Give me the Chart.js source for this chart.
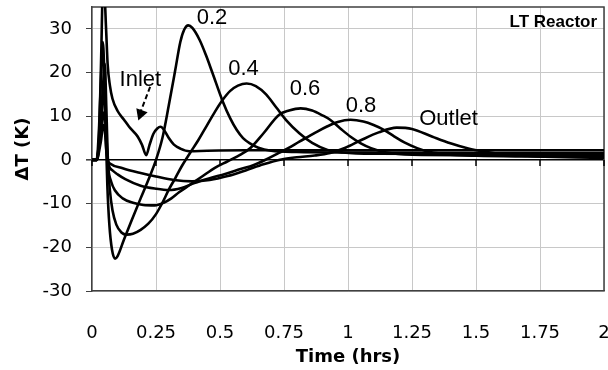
<!DOCTYPE html>
<html><head><meta charset="utf-8">
<script src="https://cdn.jsdelivr.net/npm/chart.js@4.4.1/dist/chart.umd.min.js"></script>
<style>html,body{margin:0;padding:0;background:#fff}canvas{display:block}</style>
</head><body>
<canvas id="c" width="608" height="370"></canvas>
<script>
// tick labels
const xTicks=[0,0.25,0.5,0.75,1,1.25,1.5,1.75,2];
const yTicks=[-30,-20,-10,0,10,20,30];
const seriesNames=["Inlet","0.2","0.4","0.6","0.8","Outlet"];
// [time (hrs), dT (K)]
const inlet=[[0,0],[0.02,0],[0.028,6],[0.036,24],[0.042,38],[0.048,38],[0.055,30],[0.061,22],[0.07,17],[0.08,14],[0.1,11.2],[0.125,9.2],[0.145,7.6],[0.165,6.3],[0.18,5.2],[0.195,3.5],[0.212,1.1],[0.225,3.5],[0.24,6],[0.255,7.2],[0.268,7.6],[0.282,6.8],[0.3,5],[0.32,3.5],[0.345,2.6],[0.38,2],[0.45,2.1],[0.6,2.2],[1,2.2],[1.5,2.2],[2,2.2]];
const p02=[[0,0],[0.018,0],[0.028,8],[0.036,20],[0.042,27],[0.047,22],[0.053,8],[0.06,-6],[0.068,-15],[0.078,-20.5],[0.09,-22.6],[0.1,-22],[0.125,-18.2],[0.155,-13.8],[0.19,-8.8],[0.22,-4.6],[0.25,0],[0.275,5],[0.3,12.5],[0.325,20.5],[0.345,27],[0.36,29.8],[0.376,30.8],[0.392,30.2],[0.42,27.5],[0.445,24],[0.47,20],[0.51,13.5],[0.54,9.5],[0.565,6.9],[0.59,5],[0.617,3.8],[0.65,2.8],[0.7,2.1],[0.8,1.8],[1,1.7],[1.5,1.6],[2,1.6]];
const p04=[[0,0],[0.018,0],[0.03,6],[0.042,16],[0.05,22],[0.056,12],[0.062,0],[0.07,-7],[0.08,-11.5],[0.095,-14.8],[0.115,-16.6],[0.135,-17.1],[0.16,-16.9],[0.19,-16],[0.22,-14.6],[0.25,-12.4],[0.275,-9.8],[0.3,-6.8],[0.325,-4.2],[0.35,-1.5],[0.383,1.6],[0.415,4.5],[0.448,7.8],[0.48,11],[0.51,13.7],[0.54,15.8],[0.57,17],[0.604,17.5],[0.64,16.9],[0.68,15],[0.72,12],[0.76,9],[0.81,6.1],[0.86,3.9],[0.92,2.3],[0.98,1.7],[1.1,1.4],[2,1.3]];
const p06=[[0,0],[0.018,0],[0.032,6],[0.044,14],[0.05,16],[0.056,6],[0.063,-1.5],[0.075,-5],[0.09,-7],[0.12,-8.8],[0.16,-9.8],[0.2,-10.3],[0.245,-10.4],[0.28,-9.8],[0.31,-8.8],[0.34,-7.4],[0.38,-5.8],[0.43,-3.8],[0.48,-1.8],[0.53,-0.3],[0.58,1.2],[0.62,2.8],[0.67,6.1],[0.73,10.3],[0.77,11.3],[0.815,11.8],[0.86,11.3],[0.9,10.2],[0.93,9.2],[0.97,7.2],[1.01,5.3],[1.05,3.8],[1.09,2.7],[1.15,1.7],[1.25,1.2],[1.5,1.1],[2,1.0]];
const p08=[[0,0],[0.018,0],[0.032,5],[0.044,10],[0.05,11],[0.056,4],[0.065,-1],[0.08,-2.4],[0.1,-3.3],[0.13,-4.4],[0.19,-5.9],[0.25,-6.6],[0.3,-6.9],[0.35,-6.4],[0.4,-5.3],[0.46,-4.2],[0.52,-3.2],[0.58,-2.1],[0.63,-1.2],[0.68,0.1],[0.73,1.6],[0.77,2.8],[0.81,4.2],[0.85,5.5],[0.88,6.5],[0.92,7.7],[0.96,8.7],[1.01,9.2],[1.06,8.8],[1.1,8],[1.14,6.9],[1.18,5.4],[1.22,4],[1.27,2.7],[1.32,1.8],[1.4,1.2],[1.5,0.95],[1.7,0.8],[2,0.7]];
const outlet=[[0,0],[0.018,0],[0.034,4],[0.045,8],[0.05,7],[0.056,2],[0.063,-0.3],[0.07,-0.8],[0.12,-1.9],[0.19,-3.0],[0.25,-3.8],[0.32,-4.6],[0.39,-4.9],[0.46,-4.6],[0.53,-3.7],[0.6,-2.4],[0.67,-1.0],[0.74,0.1],[0.8,0.6],[0.87,1.0],[0.93,1.6],[0.99,2.8],[1.05,4.5],[1.12,6.3],[1.19,7.4],[1.25,7.1],[1.33,5.3],[1.4,3.8],[1.47,2.6],[1.53,1.9],[1.6,1.3],[1.7,0.9],[1.85,0.6],[2,0.5]];

const sets=[inlet,p02,p04,p06,p08,outlet];
const tickFont={family:"DejaVu Sans",size:18};
const titleFont={family:"DejaVu Sans",size:18,weight:"bold"};
const noPad=s=>{s.paddingLeft=s.paddingRight=s.paddingTop=s.paddingBottom=0};

// frame, zero-line ticks and text labels
const extras={
  id:"extras",
  beforeDatasetsDraw(chart){
    const {ctx,chartArea:a,scales:{x,y}}=chart;
    ctx.save();
    ctx.strokeStyle="#404040";ctx.lineWidth=1.5;
    ctx.beginPath();ctx.moveTo(a.left,a.top);ctx.lineTo(a.right,a.top);ctx.lineTo(a.right,a.bottom);ctx.stroke();
    const y0=y.getPixelForValue(0);
    ctx.strokeStyle="#000";ctx.lineWidth=1.5;
    xTicks.forEach(v=>{const px=x.getPixelForValue(v);ctx.beginPath();ctx.moveTo(px,y0);ctx.lineTo(px,y0+6);ctx.stroke()});
    ctx.restore();
  },
  afterDatasetsDraw(chart){
    const {ctx,scales:{x,y}}=chart;
    const P=(t,v)=>[x.getPixelForValue(t),y.getPixelForValue(v)];
    ctx.save();
    ctx.fillStyle="#000";ctx.textBaseline="middle";ctx.textAlign="center";
    ctx.font='22px "Liberation Sans", Arial, sans-serif';
    [["Inlet",0.189,18.4],["0.2",0.469,32.4],["0.4",0.592,20.8],["0.6",0.832,16.2],["0.8",1.051,12.3],["Outlet",1.393,9.45]]
      .forEach(([s,t,v])=>{const [px,py]=P(t,v);ctx.fillText(s,px,py)});
    ctx.font='bold 17px "Liberation Sans", Arial, sans-serif';ctx.textAlign="right";
    const [rx,ry]=P(1.973,31.6);ctx.fillText("LT Reactor",rx,ry);
    // dashed arrow to the inlet curve
    const [ax,ay]=P(0.227,16.7),[bx,by]=P(0.187,10.6),[tx,ty]=P(0.181,9.0);
    ctx.strokeStyle="#000";ctx.lineWidth=2;ctx.setLineDash([5,3]);
    ctx.beginPath();ctx.moveTo(ax,ay);ctx.lineTo(bx,by);ctx.stroke();ctx.setLineDash([]);
    const ang=Math.atan2(ty-ay,tx-ax),L=11,W=6;
    ctx.beginPath();ctx.moveTo(tx,ty);
    ctx.lineTo(tx-L*Math.cos(ang)+W*Math.sin(ang),ty-L*Math.sin(ang)-W*Math.cos(ang));
    ctx.lineTo(tx-L*Math.cos(ang)-W*Math.sin(ang),ty-L*Math.sin(ang)+W*Math.cos(ang));
    ctx.closePath();ctx.fill();
    ctx.restore();
  }
};

new Chart(document.getElementById("c"),{
  type:"line",
  data:{datasets:sets.map((s,i)=>({label:seriesNames[i],data:s.map(p=>({x:p[0],y:p[1]})),borderColor:"#000",borderWidth:2.6,pointRadius:0,cubicInterpolationMode:"monotone",fill:false}))},
  options:{
    responsive:false,animation:false,devicePixelRatio:1,
    layout:{padding:{left:0,right:4,top:7,bottom:0}},
    plugins:{legend:{display:false},tooltip:{enabled:false}},
    scales:{
      x:{type:"linear",min:0,max:2,
        afterFit:s=>{s.height=79;noPad(s)},
        afterBuildTicks:s=>{s.ticks=xTicks.map(v=>({value:v}))},
        grid:{color:"#c8c8c8",lineWidth:1,drawTicks:false},
        border:{color:"#404040",width:1.5},
        ticks:{padding:32,font:tickFont,color:"#000",maxRotation:0,autoSkip:false,callback:v=>String(v)},
        title:{display:true,text:"Time (hrs)",font:titleFont,color:"#000",padding:{top:0,bottom:2}}},
      y:{type:"linear",min:-30,max:35,
        afterFit:s=>{s.width=92;noPad(s)},
        afterBuildTicks:s=>{s.ticks=yTicks.map(v=>({value:v}))},
        grid:{color:c=>c.tick&&c.tick.value===0?"#000":"#c8c8c8",lineWidth:c=>c.tick&&c.tick.value===0?1.6:1,tickLength:6,tickColor:"#404040"},
        border:{color:"#404040",width:1.5},
        ticks:{padding:14,font:tickFont,color:"#000",callback:v=>String(v)},
        title:{display:true,text:"ΔT (K)",font:titleFont,color:"#000",padding:{top:13,bottom:0}}}
    }
  },
  plugins:[extras]
});
</script>
</body></html>
